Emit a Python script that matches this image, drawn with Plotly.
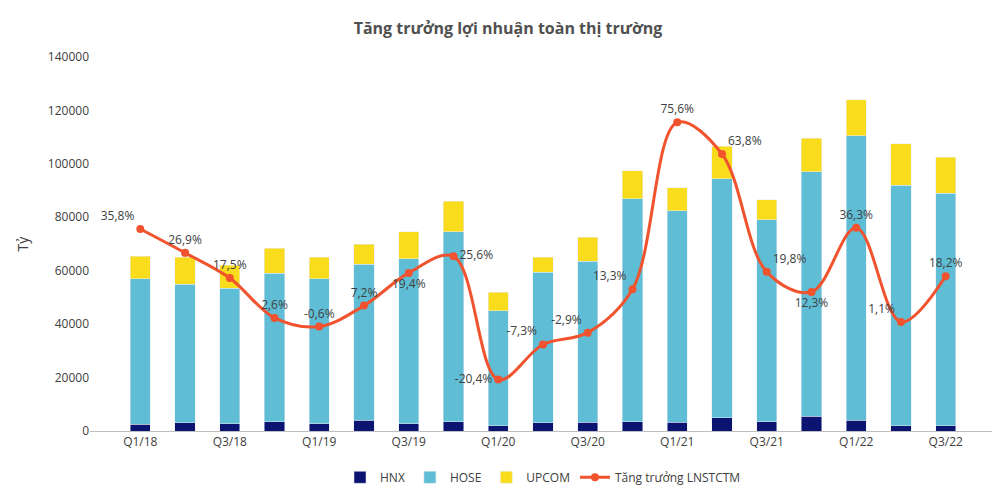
import plotly.graph_objects as go

quarters = ["Q1/18","Q2/18","Q3/18","Q4/18","Q1/19","Q2/19","Q3/19","Q4/19","Q1/20","Q2/20","Q3/20","Q4/20","Q1/21","Q2/21","Q3/21","Q4/21","Q1/22","Q2/22","Q3/22"]
hnx = [2500,3000,2800,3500,2800,4000,2800,3500,2000,3000,3200,3500,3200,5000,3500,5500,4000,2000,2000]
hose_top = [57000,55000,53500,59000,57000,62500,64500,74500,45000,59500,63500,87000,82500,94500,79000,97000,110500,92000,89000]
total = [65500,65000,62000,68500,65000,70000,74500,86000,52000,65000,72500,97500,91000,106500,86500,109500,124000,107500,102500]
growth = [35.8,26.9,17.5,2.6,-0.6,7.2,19.4,25.6,-20.4,-7.3,-2.9,13.3,75.6,63.8,19.8,12.3,36.3,1.1,18.2]
tick_labels = ["Q1/18","Q3/18","Q1/19","Q3/19","Q1/20","Q3/20","Q1/21","Q3/21","Q1/22","Q3/22"]

hose = [h - n for h, n in zip(hose_top, hnx)]
upcom = [t - h for t, h in zip(total, hose_top)]
labels = [f"{g:.1f}%".replace(".", ",") for g in growth]
pos = ["top left","top center","top center","top center","top center","top center","bottom center","middle right",
       "middle left","top left","top left","top left","top center","top right","top right","bottom center","top center","top left","top center"]

fig = go.Figure()
fig.add_bar(x=quarters, y=hnx, name="HNX", marker_color="#0b1470")
fig.add_bar(x=quarters, y=hose, name="HOSE", marker_color="#5fbdd5")
fig.add_bar(x=quarters, y=upcom, name="UPCOM", marker_color="#f9dc1c")
fig.add_scatter(x=quarters, y=growth, name="Tăng trưởng LNSTCTM", yaxis="y2",
                mode="lines+markers+text", text=labels, textposition=pos,
                textfont=dict(size=12, color="#404040"),
                line=dict(color="#f0532d", width=3, shape="spline", smoothing=1.0),
                marker=dict(size=8, color="#f0532d"))

fig.update_layout(
    barmode="stack", bargap=0.55,
    width=1000, height=496, plot_bgcolor="white", paper_bgcolor="white",
    font=dict(family="Open Sans", color="#404040", size=12),
    title=dict(text="<b>Tăng trưởng lợi nhuận toàn thị trường</b>", x=0.5, y=0.97, font=dict(size=16, color="#505050")),
    margin=dict(l=82, r=12, t=49, b=56),
    xaxis=dict(tickmode="array", tickvals=tick_labels, showline=True, linecolor="#bfbfbf", ticks=""),
    yaxis=dict(range=[0, 140000], dtick=20000, showgrid=False, title=dict(text="Tỷ"), tickformat="d"),
    yaxis2=dict(range=[-39.6, 100], overlaying="y", visible=False),
    legend=dict(orientation="h", traceorder="normal", x=0.5, xanchor="center", y=-0.085, yanchor="top", font=dict(size=12)),
)
fig.write_html("out.html")
